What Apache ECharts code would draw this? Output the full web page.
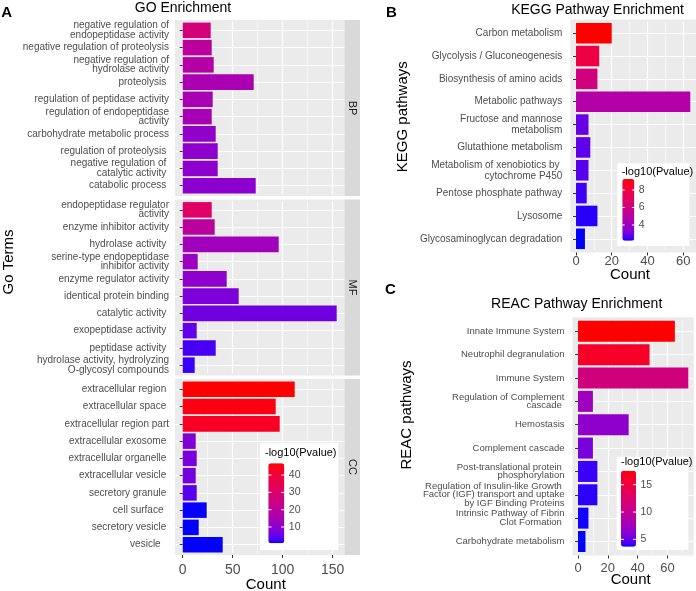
<!DOCTYPE html>
<html>
<head>
<meta charset="utf-8">
<script src="https://cdn.jsdelivr.net/npm/echarts@6.0.0/dist/echarts.min.js"></script>
<style>
html,body{margin:0;padding:0;background:#ffffff;}
#chart{width:696px;height:591px;}
</style>
</head>
<body>
<div id="chart"></div>
<script>
// ---------------- data ----------------
const bpTerms = ["negative regulation of\nendopeptidase activity", "negative regulation of proteolysis", "negative regulation of\nhydrolase activity", "proteolysis ", "regulation of peptidase activity", "regulation of endopeptidase\nactivity", "carbohydrate metabolic process", "regulation of proteolysis ", "negative regulation of \ncatalytic activity ", "catabolic process "];
const bpCounts = [28, 29, 31, 71, 30, 29, 33, 35, 35, 73];
const bpLogP = [26.5, 19.5, 17.7, 15.4, 15.2, 15.0, 10.8, 9.9, 9.8, 9.6];

const mfTerms = ["endopeptidase regulator\nactivity", "enzyme inhibitor activity", "hydrolase activity ", "serine-type endopeptidase\ninhibitor activity", "enzyme regulator activity", "identical protein binding", "catalytic activity ", "exopeptidase activity ", "peptidase activity ", "hydrolase activity, hydrolyzing\nO-glycosyl compounds"];
const mfCounts = [29, 32, 96, 15, 44, 56, 154, 14, 33, 12];
const mfLogP = [31.0, 19.5, 13.5, 12.6, 10.3, 7.6, 6.1, 4.8, 2.8, 2.0];

const ccTerms = ["extracellular region ", "extracellular space ", "extracellular region part", "extracellular exosome ", "extracellular organelle ", "extracellular vesicle ", "secretory granule ", "cell surface  ", "secretory vesicle ", "vesicle   "];
const ccCounts = [112, 93, 97, 13, 14, 13, 14, 24, 16, 40];
const ccLogP = [46.8, 45.4, 43.0, 8.0, 7.1, 6.6, 3.8, 0.8, 0.6, 0.7];

const keggTerms = ["Carbon metabolism", "Glycolysis / Gluconeogenesis", "Biosynthesis of amino acids", "Metabolic pathways", "Fructose and mannose\nmetabolism", "Glutathione metabolism", "Metabolism of xenobiotics by \ncytochrome P450", "Pentose phosphate pathway", "Lysosome", "Glycosaminoglycan degradation"];
const keggCounts = [20, 13, 12, 64, 7, 8, 7, 6, 12, 5];
const keggLogP = [9.26, 7.85, 6.1, 4.8, 2.9, 2.8, 2.7, 2.45, 2.35, 2.2];

const reacTerms = ["Innate Immune System", "Neutrophil degranulation", "Immune System", "Regulation of Complement\ncascade ", "Hemostasis", "Complement cascade", "Post-translational protein \nphosphorylation", "Regulation of Insulin-like Growth \nFactor (IGF) transport and uptake\nby IGF Binding Proteins", "Intrinsic Pathway of Fibrin\nClot Formation ", "Carbohydrate metabolism"];
const reacCounts = [65, 48, 74, 10, 34, 10, 13, 13, 7, 5];
const reacLogP = [17.56, 16.2, 11.3, 7.5, 6.6, 5.6, 4.1, 4.0, 3.8, 3.66];

const facetNames = ["BP", "MF", "CC"];
const goTicks = [0, 50, 100, 150];
const keggTicks = [0, 20, 40, 60];
const reacTicks = [0, 20, 40, 60];
const goLegendTicks = [10, 20, 30, 40];
const keggLegendTicks = [4, 6, 8];
const reacLegendTicks = [5, 10, 15];

// ---------------- helpers ----------------
const FONT = "'Liberation Sans', Arial, Helvetica, sans-serif";

function s2l(c){c/=255;return c<=0.04045?c/12.92:Math.pow((c+0.055)/1.055,2.4);}
function l2s(c){c=c<=0.0031308?12.92*c:1.055*Math.pow(Math.max(c,0),1/2.4)-0.055;return Math.round(Math.max(0,Math.min(1,c))*255);}
function toLab(r,g,b){
  const R=s2l(r),G=s2l(g),B=s2l(b);
  const X=(0.4124*R+0.3576*G+0.1805*B)/0.95047, Y=0.2126*R+0.7152*G+0.0722*B, Z=(0.0193*R+0.1192*G+0.9505*B)/1.08883;
  const f=t=>t>0.008856?Math.cbrt(t):(7.787*t+16/116);
  const fx=f(X),fy=f(Y),fz=f(Z);
  return [116*fy-16,500*(fx-fy),200*(fy-fz)];
}
function fromLab(L,a,b){
  const fy=(L+16)/116, fx=fy+a/500, fz=fy-b/200;
  const fi=t=>{const t3=t*t*t;return t3>0.008856?t3:(t-16/116)/7.787;};
  const X=0.95047*fi(fx), Y=fi(fy), Z=1.08883*fi(fz);
  const R=3.2406*X-1.5372*Y-0.4986*Z, G=-0.9689*X+1.8758*Y+0.0415*Z, B=0.0557*X-0.2040*Y+1.0570*Z;
  return '#'+[R,G,B].map(v=>l2s(v).toString(16).padStart(2,'0')).join('');
}
const labLow = toLab(0,0,255), labHigh = toLab(255,0,0);
const gradient = [];
for (let i=0;i<=30;i++){const t=i/30;gradient.push(fromLab(labLow[0]+(labHigh[0]-labLow[0])*t,labLow[1]+(labHigh[1]-labLow[1])*t,labLow[2]+(labHigh[2]-labLow[2])*t));}

// layout (pixels)
const A = {left:175, right:344.4, tops:[20,199.5,379], height:176, stripW:15.6};
const Bp = {left:570.3, right:696, top:19.5, height:233};
const Cp = {left:572.5, right:693.8, top:317.3, height:238.2};

const grids=[], xAxes=[], yAxes=[], series=[], graphics=[];

function rect(x,y,w,h,fill,z){graphics.push({type:'rect',silent:true,z:z,shape:{x:x,y:y,width:w,height:h},style:{fill:fill}});}
function line(x1,y1,x2,y2,color,w,z){graphics.push({type:'line',silent:true,z:z,shape:{x1:x1,y1:y1,x2:x2,y2:y2},style:{stroke:color,lineWidth:w}});}
function txt(x,y,s,size,color,opt){opt=opt||{};graphics.push({type:'text',silent:true,x:x,y:y,rotation:opt.rot||0,z:opt.z||10,
  style:{text:s,fontSize:size,fontFamily:FONT,fontWeight:opt.bold?'bold':'normal',fill:color,align:opt.align||'center',verticalAlign:opt.va||'middle'}});}

function addPanel(left,right,top,height,terms,counts,logp,maxCount,ticks,showX,xfs,xMargin,yfs,ylh,yMargin){
  const n = terms.length;
  const band = height/(n-1+1.2);
  const inset = 0.1*band;
  const gi = grids.length;
  grids.push({left:left, top:top+inset, width:right-left, height:height-2*inset, containLabel:false, outerBoundsMode:'none'});
  rect(left,top,right-left,height,'#EBEBEB',-10);
  xAxes.push({gridIndex:gi,type:'value',min:-0.05*maxCount,max:1.05*maxCount,splitNumber:4,offset:inset,
    axisLine:{show:false},
    axisTick:{show:showX,length:3,lineStyle:{color:'#333333',width:1},customValues:ticks},
    axisLabel:{show:showX,customValues:ticks,fontSize:xfs,color:'#4D4D4D',fontFamily:FONT,margin:xMargin},
    splitLine:{show:true,lineStyle:{color:'#FFFFFF',width:1.2}},
    minorTick:{show:false,splitNumber:2},
    minorSplitLine:{show:true,lineStyle:{color:'#FFFFFF',width:0.6}}});
  yAxes.push({gridIndex:gi,type:'category',data:terms,inverse:true,
    axisLine:{show:false},
    axisTick:{show:true,alignWithLabel:true,interval:0,length:3,lineStyle:{color:'#333333',width:1}},
    axisLabel:{interval:0,fontSize:yfs,lineHeight:ylh,color:'#4D4D4D',fontFamily:FONT,margin:yMargin,align:'right'},
    splitLine:{show:true,alignWithLabel:true,interval:0,lineStyle:{color:'#FFFFFF',width:1.2}}});
  series.push({type:'bar',xAxisIndex:gi,yAxisIndex:gi,barWidth:'90%',silent:true,
    data:counts.map((c,j)=>[c,j,logp[j]]),encode:{x:0,y:1}});
  return gi;
}

// Panel A (three facets sharing the x scale)
const goMax = Math.max(...bpCounts,...mfCounts,...ccCounts);
const goSets = [[bpTerms,bpCounts,bpLogP],[mfTerms,mfCounts,mfLogP],[ccTerms,ccCounts,ccLogP]];
goSets.forEach((s,k)=>{
  addPanel(A.left,A.right,A.tops[k],A.height,s[0],s[1],s[2],goMax,goTicks,k===2,14,8,10,9.5,6);
  rect(A.right,A.tops[k],A.stripW,A.height,'#D9D9D9',-10);
  txt(A.right+A.stripW/2,A.tops[k]+A.height/2,facetNames[k],11,'#1A1A1A',{rot:-Math.PI/2});
});
// Panel B
const keggMax = Math.max(...keggCounts);
addPanel(Bp.left,Bp.right,Bp.top,Bp.height,keggTerms,keggCounts,keggLogP,keggMax,keggTicks,true,13,2,10,11,8);
// Panel C
const reacMax = Math.max(...reacCounts);
addPanel(Cp.left,Cp.right,Cp.top,Cp.height,reacTerms,reacCounts,reacLogP,reacMax,reacTicks,true,13,6.5,9.5,8.8,8);

// titles and axis titles
txt(183,8,'GO Enrichment',14,'#000000');
txt(597.5,10.5,'KEGG Pathway Enrichment',14,'#000000');
txt(576.7,304.5,'REAC Pathway Enrichment',14,'#000000');
txt(6.7,13,'A',15,'#000000',{bold:true});
txt(391.5,12.5,'B',15,'#000000',{bold:true});
txt(390.3,290,'C',15,'#000000',{bold:true});
txt(8.5,262,'Go Terms',15,'#000000',{rot:Math.PI/2});
txt(403.3,116.7,'KEGG pathways',15,'#000000',{rot:Math.PI/2});
txt(406.7,415,'REAC pathways',15,'#000000',{rot:Math.PI/2});
txt(265.8,585,'Count',15,'#000000');
txt(630,274.5,'Count',15,'#000000');
txt(630.7,579.5,'Count',15,'#000000');

// legends
const visualMaps = [];
function legend(box,bar,titleX,titleY,ticks,vals,seriesIdx){
  const mn=Math.min(...vals), mx=Math.max(...vals);
  rect(box.x,box.y,box.w,box.h,'#FFFFFF',3);
  txt(titleX,titleY,'-log10(Pvalue)',11,'#000000',{align:'left',z:5});
  ticks.forEach(v=>{
    const y = bar.y+(mx-v)/(mx-mn)*bar.h;
    txt(bar.x+bar.w+4.5,y,String(v),10.5,'#4D4D4D',{align:'left',z:5});
    line(bar.x,y,bar.x+bar.w*0.2,y,'#FFFFFF',1,6);
    line(bar.x+bar.w*0.8,y,bar.x+bar.w,y,'#FFFFFF',1,6);
  });
  visualMaps.push({type:'continuous',seriesIndex:seriesIdx,dimension:2,min:mn,max:mx,calculable:false,
    inRange:{color:gradient},orient:'vertical',left:bar.x,top:bar.y,itemWidth:bar.w,itemHeight:bar.h,padding:0,z:4});
}
legend({x:260,y:443.3,w:78.3,h:106.7},{x:268.3,y:463.3,w:16,h:80},265,453.3,goLegendTicks,[...bpLogP,...mfLogP,...ccLogP],[0,1,2]);
legend({x:617.3,y:163.3,w:72,h:82.7},{x:622.3,y:179,w:12,h:61.7},621.7,171.7,keggLegendTicks,keggLogP,[3]);
legend({x:616.7,y:456.7,w:71.6,h:93.3},{x:621,y:470.7,w:15,h:76},621,462.3,reacLegendTicks,reacLogP,[4]);

const chart = echarts.init(document.getElementById('chart'),null,{renderer:'canvas'});
chart.setOption({
  animation:false,
  backgroundColor:'#FFFFFF',
  textStyle:{fontFamily:FONT},
  grid:grids,
  xAxis:xAxes,
  yAxis:yAxes,
  visualMap:visualMaps,
  series:series,
  graphic:{elements:graphics}
});
</script>
</body>
</html>
